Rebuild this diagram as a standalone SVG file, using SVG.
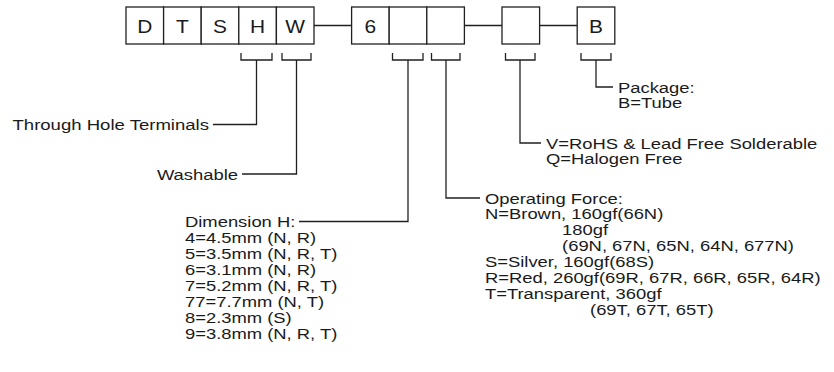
<svg xmlns="http://www.w3.org/2000/svg" width="834" height="372" viewBox="0 0 834 372">
<style>
.box{fill:#fff;stroke:#231f20;stroke-width:1.3}
.ln{fill:none;stroke:#231f20;stroke-width:1.3}
.t{font-family:"Liberation Sans",Arial,sans-serif;font-size:15px;fill:#1a1a1a}
.b{font-family:"Liberation Sans",Arial,sans-serif;font-size:19px;fill:#1a1a1a;text-anchor:middle}
.e{text-anchor:end}
</style>
<rect width="834" height="372" fill="#fff"/>
<g id="connectors">
<path class="ln" d="M314,25.5H351.6M464.4,25.5H502M539.6,25.5H577.2"/>
<path class="ln" d="M241,53V60H272V53M256.5,60V124.5H213"/>
<path class="ln" d="M282,53V60H311V53M296.5,60V174H242"/>
<path class="ln" d="M392.5,53V60H423V53M408,60V221.5H299"/>
<path class="ln" d="M431.5,53V60H460V53M446,60V198H480"/>
<path class="ln" d="M505.5,53V60H535V53M520,60V143H541"/>
<path class="ln" d="M581,53V60H611V53M596,60V87H613"/>
</g>
<g id="box-D"><rect class="box" x="126" y="7" width="37.6" height="37"/><text class="b" transform="translate(144.8,33) scale(1.1,1)">D</text></g>
<g id="box-T"><rect class="box" x="163.6" y="7" width="37.6" height="37"/><text class="b" transform="translate(182.4,33) scale(1.1,1)">T</text></g>
<g id="box-S"><rect class="box" x="201.2" y="7" width="37.6" height="37"/><text class="b" transform="translate(220,33) scale(1.1,1)">S</text></g>
<g id="box-H"><rect class="box" x="238.8" y="7" width="37.6" height="37"/><text class="b" transform="translate(257.6,33) scale(1.1,1)">H</text></g>
<g id="box-W"><rect class="box" x="276.4" y="7" width="37.6" height="37"/><text class="b" transform="translate(295.2,33) scale(1.1,1)">W</text></g>
<g id="box-6"><rect class="box" x="351.6" y="7" width="37.6" height="37"/><text class="b" transform="translate(370.4,33) scale(1.1,1)">6</text></g>
<g id="box-dim"><rect class="box" x="389.2" y="7" width="37.6" height="37"/></g>
<g id="box-force"><rect class="box" x="426.8" y="7" width="37.6" height="37"/></g>
<g id="box-rohs"><rect class="box" x="502" y="7" width="37.6" height="37"/></g>
<g id="box-B"><rect class="box" x="577.2" y="7" width="37.6" height="37"/><text class="b" transform="translate(596,33) scale(1.1,1)">B</text></g>
<g id="label-through-hole"><text class="t e" transform="translate(209,130) scale(1.237,1)">Through Hole Terminals</text></g>
<g id="label-washable"><text class="t e" transform="translate(238,179.5) scale(1.227,1)">Washable</text></g>
<g id="label-dimension">
<text class="t" transform="translate(185,227) scale(1.227,1)"><tspan x="0" y="0">Dimension H:</tspan><tspan x="0" dy="16">4=4.5mm (N, R)</tspan><tspan x="0" dy="16">5=3.5mm (N, R, T)</tspan><tspan x="0" dy="16">6=3.1mm (N, R)</tspan><tspan x="0" dy="16">7=5.2mm (N, R, T)</tspan><tspan x="0" dy="16">77=7.7mm (N, T)</tspan><tspan x="0" dy="16">8=2.3mm (S)</tspan><tspan x="0" dy="16">9=3.8mm (N, R, T)</tspan></text>
</g>
<g id="label-force">
<text class="t" transform="translate(485,203.5) scale(1.227,1)"><tspan x="0" y="0">Operating Force:</tspan><tspan x="0" dy="16">N=Brown, 160gf(66N)</tspan><tspan x="62.8" dy="16">180gf</tspan><tspan x="62.8" dy="16">(69N, 67N, 65N, 64N, 677N)</tspan><tspan x="0" dy="16">S=Silver, 160gf(68S)</tspan><tspan x="0" dy="16">R=Red, 260gf(69R, 67R, 66R, 65R, 64R)</tspan><tspan x="0" dy="16">T=Transparent, 360gf</tspan><tspan x="85.6" dy="16">(69T, 67T, 65T)</tspan></text>
</g>
<g id="label-rohs">
<text class="t" transform="translate(546,148.5) scale(1.227,1)"><tspan x="0" y="0">V=RoHS &amp; Lead Free Solderable</tspan><tspan x="0" dy="16">Q=Halogen Free</tspan></text>
</g>
<g id="label-package">
<text class="t" transform="translate(618,92.5) scale(1.227,1)"><tspan x="0" y="0">Package:</tspan><tspan x="0" dy="16">B=Tube</tspan></text>
</g>
</svg>
